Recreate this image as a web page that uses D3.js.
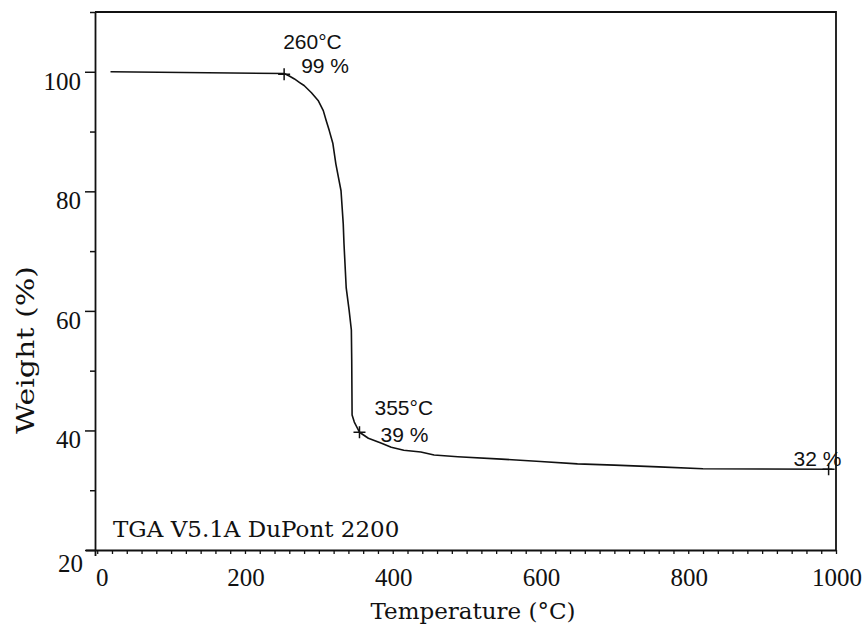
<!DOCTYPE html>
<html>
<head>
<meta charset="utf-8">
<script src="https://cdn.jsdelivr.net/npm/d3@7"></script>
<style>
  html, body { margin: 0; padding: 0; background: #fff; }
  svg { display: block; }
</style>
</head>
<body>
<svg id="chart" width="866" height="629"></svg>
<script>
// ---- data ----
const temperatures = [18, 253, 260, 267, 274, 280, 290, 299, 306, 310, 314, 319, 323, 330, 333, 334, 337, 341, 344, 344.5, 345, 348, 355, 367, 384, 398, 415, 438, 456, 488, 547, 600, 650, 700, 760, 820, 900, 995];
const weights      = [100, 99.7, 99.3, 98.8, 98.2, 97.7, 96.5, 95.2, 93.5, 91.8, 90.2, 88.0, 84.6, 80.1, 74.6, 71.3, 63.9, 60.1, 56.8, 51.8, 42.6, 41.4, 39.7, 38.7, 37.9, 37.2, 36.7, 36.4, 35.9, 35.6, 35.2, 34.8, 34.4, 34.2, 33.9, 33.6, 33.55, 33.5];

const markerTemps   = [253, 355, 990];
const markerWeights = [99.6, 39.7, 33.5];
const markerLabels  = [["260°C", "99 %"], ["355°C", "39 %"], ["", "32 %"]];

const xTickValues = [0, 200, 400, 600, 800, 1000];
const yTickValues = [20, 40, 60, 80, 100];
const xTitle = "Temperature (°C)";
const yTitle = "Weight (%)";
const instrumentNote = "TGA V5.1A DuPont 2200";

// ---- layout ----
const svg = d3.select("#chart");
const x = d3.scaleLinear().domain([-3, 1000]).range([95, 836]);
const y = d3.scaleLinear().domain([20, 110]).range([550, 12]);

const ink = "#111";
const serif = "'DejaVu Serif', serif";
const numFont = "'Liberation Serif', 'Times New Roman', serif";
const sans = "'Liberation Sans', Arial, sans-serif";

// frame (top and right)
svg.append("path")
  .attr("d", `M${x(-3)},${y(110)} H${x(1000)} V${y(20)}`)
  .attr("fill", "none").attr("stroke", ink).attr("stroke-width", 1.8);

// x axis (bottom)
const xMinor = d3.range(0, 1001, 20);
svg.append("g").attr("transform", `translate(0,${y(20)})`)
  .call(d3.axisBottom(x).tickValues(xMinor).tickSize(4).tickFormat(""))
  .call(g => g.select(".domain").attr("d", `M${x(-3) - 9},0.5H${x(1000)}`).attr("stroke", ink).attr("stroke-width", 1.8))
  .call(g => g.selectAll(".tick line").attr("stroke", ink).attr("stroke-width", 1.3));

svg.append("g").selectAll("text").data(xTickValues).join("text")
  .attr("x", d => d === 0 ? x(d) + 5 : x(d) + 1)
  .attr("y", 586)
  .attr("text-anchor", "middle")
  .attr("font-family", numFont).attr("font-size", 25).attr("fill", ink)
  .text(d => d);

// y axis (left)
const yMinor = d3.range(30, 111, 10).filter(v => v % 20 !== 0);
svg.append("g").attr("transform", `translate(${x(-3)},0)`)
  .call(d3.axisLeft(y).tickValues(yTickValues).tickSize(10).tickFormat(""))
  .call(g => g.select(".domain").attr("d", `M0.5,${y(110)}V${y(20) + 6}`).attr("stroke", ink).attr("stroke-width", 1.8))
  .call(g => g.selectAll(".tick line").attr("stroke", ink).attr("stroke-width", 1.5));
svg.append("g").attr("transform", `translate(${x(-3)},0)`)
  .call(d3.axisLeft(y).tickValues(yMinor).tickSize(5).tickFormat(""))
  .call(g => g.select(".domain").remove())
  .call(g => g.selectAll(".tick line").attr("stroke", ink).attr("stroke-width", 1.5));

svg.append("g").selectAll("text").data(yTickValues).join("text")
  .attr("x", d => d === 20 ? 83 : 81)
  .attr("y", d => y(d) + (d === 20 ? 22 : 18))
  .attr("text-anchor", "end")
  .attr("font-family", numFont).attr("font-size", 25).attr("fill", ink)
  .text(d => d);

// axis titles
svg.append("text")
  .attr("x", 473).attr("y", 619)
  .attr("text-anchor", "middle")
  .attr("font-family", serif).attr("font-size", 23).attr("fill", ink)
  .text(xTitle);

svg.append("text")
  .attr("transform", `translate(34,350) rotate(-90)`)
  .attr("text-anchor", "middle")
  .attr("textLength", 168).attr("lengthAdjust", "spacingAndGlyphs")
  .attr("font-family", serif).attr("font-size", 25).attr("fill", ink)
  .text(yTitle);

// instrument note
svg.append("text")
  .attr("x", 113).attr("y", 537)
  .attr("font-family", serif).attr("font-size", 23).attr("fill", ink)
  .text(instrumentNote);

// curve
const pts = temperatures.map((t, i) => [t, weights[i]]);
svg.append("path")
  .datum(pts)
  .attr("fill", "none").attr("stroke", ink).attr("stroke-width", 1.6)
  .attr("stroke-linejoin", "round")
  .attr("d", d3.line().x(d => x(d[0])).y(d => y(d[1])));

// markers
const markers = markerTemps.map((t, i) => ({ t, w: markerWeights[i], lab: markerLabels[i] }));
const mg = svg.append("g").selectAll("g").data(markers).join("g")
  .attr("transform", d => `translate(${x(d.t)},${y(d.w)})`);
mg.append("path")
  .attr("d", "M-6,0H6M0,-6V6")
  .attr("stroke", ink).attr("stroke-width", 1.5);

const labelOffsets = [[[-1, -25], [17, -1]], [[15, -17], [21, 10]], [[0, 0], [-35, -3]]];
mg.each(function (d, i) {
  const g = d3.select(this);
  d.lab.forEach((s, j) => {
    if (!s) return;
    g.append("text")
      .attr("x", labelOffsets[i][j][0]).attr("y", labelOffsets[i][j][1])
      .attr("font-family", sans).attr("font-size", 21).attr("fill", ink)
      .text(s);
  });
});
</script>
</body>
</html>
